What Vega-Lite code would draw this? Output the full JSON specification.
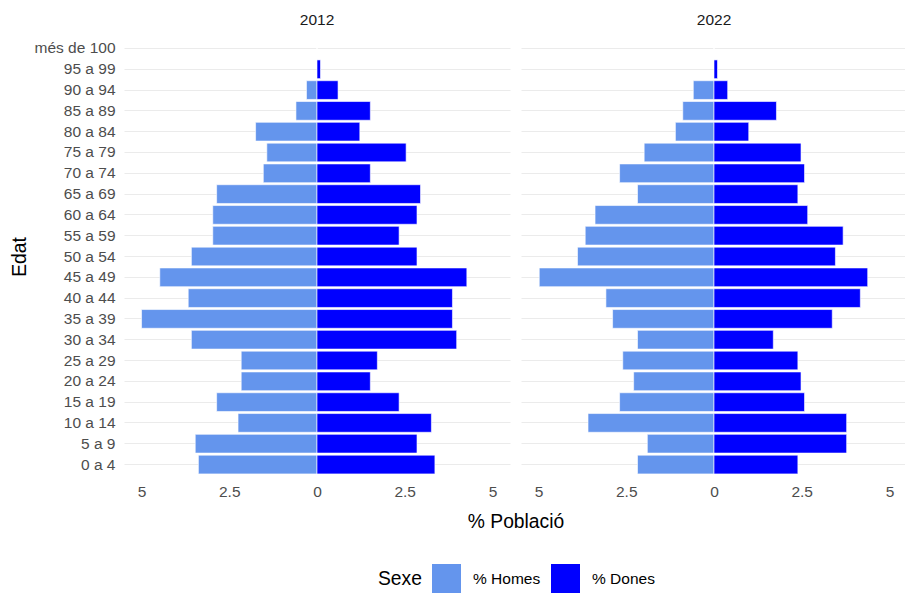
{
  "$schema": "https://vega.github.io/schema/vega-lite/v6.json",
  "background": "white",
  "padding": {"left": 10, "top": 12, "right": 0, "bottom": 0},
  "config": {
    "font": "Liberation Sans",
    "view": {"stroke": null},
    "facet": {"spacing": 11}
  },
  "data": {
    "values": [
      {"year": "2012", "edat": "més de 100", "sexe": "% Homes", "pct": 0},
      {"year": "2012", "edat": "95 a 99", "sexe": "% Homes", "pct": 0},
      {"year": "2012", "edat": "90 a 94", "sexe": "% Homes", "pct": -0.3},
      {"year": "2012", "edat": "85 a 89", "sexe": "% Homes", "pct": -0.6},
      {"year": "2012", "edat": "80 a 84", "sexe": "% Homes", "pct": -1.75},
      {"year": "2012", "edat": "75 a 79", "sexe": "% Homes", "pct": -1.43},
      {"year": "2012", "edat": "70 a 74", "sexe": "% Homes", "pct": -1.53},
      {"year": "2012", "edat": "65 a 69", "sexe": "% Homes", "pct": -2.86},
      {"year": "2012", "edat": "60 a 64", "sexe": "% Homes", "pct": -2.97},
      {"year": "2012", "edat": "55 a 59", "sexe": "% Homes", "pct": -2.97},
      {"year": "2012", "edat": "50 a 54", "sexe": "% Homes", "pct": -3.58},
      {"year": "2012", "edat": "45 a 49", "sexe": "% Homes", "pct": -4.48},
      {"year": "2012", "edat": "40 a 44", "sexe": "% Homes", "pct": -3.67},
      {"year": "2012", "edat": "35 a 39", "sexe": "% Homes", "pct": -5.0},
      {"year": "2012", "edat": "30 a 34", "sexe": "% Homes", "pct": -3.58},
      {"year": "2012", "edat": "25 a 29", "sexe": "% Homes", "pct": -2.16},
      {"year": "2012", "edat": "20 a 24", "sexe": "% Homes", "pct": -2.16},
      {"year": "2012", "edat": "15 a 19", "sexe": "% Homes", "pct": -2.86},
      {"year": "2012", "edat": "10 a 14", "sexe": "% Homes", "pct": -2.25},
      {"year": "2012", "edat": "5 a 9", "sexe": "% Homes", "pct": -3.47},
      {"year": "2012", "edat": "0 a 4", "sexe": "% Homes", "pct": -3.38},
      {"year": "2012", "edat": "més de 100", "sexe": "% Dones", "pct": 0},
      {"year": "2012", "edat": "95 a 99", "sexe": "% Dones", "pct": 0.1},
      {"year": "2012", "edat": "90 a 94", "sexe": "% Dones", "pct": 0.6},
      {"year": "2012", "edat": "85 a 89", "sexe": "% Dones", "pct": 1.52},
      {"year": "2012", "edat": "80 a 84", "sexe": "% Dones", "pct": 1.22},
      {"year": "2012", "edat": "75 a 79", "sexe": "% Dones", "pct": 2.54},
      {"year": "2012", "edat": "70 a 74", "sexe": "% Dones", "pct": 1.52},
      {"year": "2012", "edat": "65 a 69", "sexe": "% Dones", "pct": 2.95},
      {"year": "2012", "edat": "60 a 64", "sexe": "% Dones", "pct": 2.85},
      {"year": "2012", "edat": "55 a 59", "sexe": "% Dones", "pct": 2.34},
      {"year": "2012", "edat": "50 a 54", "sexe": "% Dones", "pct": 2.85},
      {"year": "2012", "edat": "45 a 49", "sexe": "% Dones", "pct": 4.27},
      {"year": "2012", "edat": "40 a 44", "sexe": "% Dones", "pct": 3.86},
      {"year": "2012", "edat": "35 a 39", "sexe": "% Dones", "pct": 3.86},
      {"year": "2012", "edat": "30 a 34", "sexe": "% Dones", "pct": 3.98},
      {"year": "2012", "edat": "25 a 29", "sexe": "% Dones", "pct": 1.72},
      {"year": "2012", "edat": "20 a 24", "sexe": "% Dones", "pct": 1.52},
      {"year": "2012", "edat": "15 a 19", "sexe": "% Dones", "pct": 2.34},
      {"year": "2012", "edat": "10 a 14", "sexe": "% Dones", "pct": 3.26},
      {"year": "2012", "edat": "5 a 9", "sexe": "% Dones", "pct": 2.85},
      {"year": "2012", "edat": "0 a 4", "sexe": "% Dones", "pct": 3.36},
      {"year": "2022", "edat": "més de 100", "sexe": "% Homes", "pct": 0},
      {"year": "2022", "edat": "95 a 99", "sexe": "% Homes", "pct": 0},
      {"year": "2022", "edat": "90 a 94", "sexe": "% Homes", "pct": -0.59},
      {"year": "2022", "edat": "85 a 89", "sexe": "% Homes", "pct": -0.89},
      {"year": "2022", "edat": "80 a 84", "sexe": "% Homes", "pct": -1.1},
      {"year": "2022", "edat": "75 a 79", "sexe": "% Homes", "pct": -1.99},
      {"year": "2022", "edat": "70 a 74", "sexe": "% Homes", "pct": -2.69},
      {"year": "2022", "edat": "65 a 69", "sexe": "% Homes", "pct": -2.18},
      {"year": "2022", "edat": "60 a 64", "sexe": "% Homes", "pct": -3.39},
      {"year": "2022", "edat": "55 a 59", "sexe": "% Homes", "pct": -3.67},
      {"year": "2022", "edat": "50 a 54", "sexe": "% Homes", "pct": -3.89},
      {"year": "2022", "edat": "45 a 49", "sexe": "% Homes", "pct": -4.98},
      {"year": "2022", "edat": "40 a 44", "sexe": "% Homes", "pct": -3.08},
      {"year": "2022", "edat": "35 a 39", "sexe": "% Homes", "pct": -2.89},
      {"year": "2022", "edat": "30 a 34", "sexe": "% Homes", "pct": -2.18},
      {"year": "2022", "edat": "25 a 29", "sexe": "% Homes", "pct": -2.6},
      {"year": "2022", "edat": "20 a 24", "sexe": "% Homes", "pct": -2.29},
      {"year": "2022", "edat": "15 a 19", "sexe": "% Homes", "pct": -2.69},
      {"year": "2022", "edat": "10 a 14", "sexe": "% Homes", "pct": -3.59},
      {"year": "2022", "edat": "5 a 9", "sexe": "% Homes", "pct": -1.9},
      {"year": "2022", "edat": "0 a 4", "sexe": "% Homes", "pct": -2.18},
      {"year": "2022", "edat": "més de 100", "sexe": "% Dones", "pct": 0},
      {"year": "2022", "edat": "95 a 99", "sexe": "% Dones", "pct": 0.1},
      {"year": "2022", "edat": "90 a 94", "sexe": "% Dones", "pct": 0.39},
      {"year": "2022", "edat": "85 a 89", "sexe": "% Dones", "pct": 1.78},
      {"year": "2022", "edat": "80 a 84", "sexe": "% Dones", "pct": 0.99},
      {"year": "2022", "edat": "75 a 79", "sexe": "% Dones", "pct": 2.48},
      {"year": "2022", "edat": "70 a 74", "sexe": "% Dones", "pct": 2.58},
      {"year": "2022", "edat": "65 a 69", "sexe": "% Dones", "pct": 2.39},
      {"year": "2022", "edat": "60 a 64", "sexe": "% Dones", "pct": 2.67},
      {"year": "2022", "edat": "55 a 59", "sexe": "% Dones", "pct": 3.68},
      {"year": "2022", "edat": "50 a 54", "sexe": "% Dones", "pct": 3.46},
      {"year": "2022", "edat": "45 a 49", "sexe": "% Dones", "pct": 4.38},
      {"year": "2022", "edat": "40 a 44", "sexe": "% Dones", "pct": 4.17},
      {"year": "2022", "edat": "35 a 39", "sexe": "% Dones", "pct": 3.37},
      {"year": "2022", "edat": "30 a 34", "sexe": "% Dones", "pct": 1.69},
      {"year": "2022", "edat": "25 a 29", "sexe": "% Dones", "pct": 2.39},
      {"year": "2022", "edat": "20 a 24", "sexe": "% Dones", "pct": 2.48},
      {"year": "2022", "edat": "15 a 19", "sexe": "% Dones", "pct": 2.58},
      {"year": "2022", "edat": "10 a 14", "sexe": "% Dones", "pct": 3.78},
      {"year": "2022", "edat": "5 a 9", "sexe": "% Dones", "pct": 3.78},
      {"year": "2022", "edat": "0 a 4", "sexe": "% Dones", "pct": 2.39}
    ]
  },
  "facet": {
    "column": {
      "field": "year",
      "type": "nominal",
      "title": "% Població",
      "header": {
        "labelFontSize": 15.5,
        "labelColor": "#1A1A1A",
        "labelPadding": 8,
        "labelOrient": "top",
        "titleOrient": "bottom",
        "titleFontSize": 19.3,
        "titleFontWeight": "normal",
        "titleColor": "black",
        "titlePadding": 3
      }
    }
  },
  "spec": {
    "width": 386,
    "height": 441,
    "mark": {"type": "bar", "stroke": "white", "strokeWidth": 0.6},
    "encoding": {
      "y": {
        "field": "edat",
        "type": "nominal",
        "sort": ["més de 100", "95 a 99", "90 a 94", "85 a 89", "80 a 84", "75 a 79", "70 a 74", "65 a 69", "60 a 64", "55 a 59", "50 a 54", "45 a 49", "40 a 44", "35 a 39", "30 a 34", "25 a 29", "20 a 24", "15 a 19", "10 a 14", "5 a 9", "0 a 4"],
        "scale": {"paddingInner": 0.1, "paddingOuter": 0.15},
        "title": "Edat",
        "axis": {
          "grid": true,
          "gridColor": "#EBEBEB",
          "gridWidth": 1,
          "domain": false,
          "ticks": false,
          "labelPadding": 9,
          "labelFontSize": 15.5,
          "labelColor": "#4D4D4D",
          "titleFontSize": 19.3,
          "titleFontWeight": "normal",
          "titleColor": "black",
          "titlePadding": 5
        }
      },
      "x": {
        "field": "pct",
        "type": "quantitative",
        "scale": {"domain": [-5.5, 5.5], "nice": false},
        "title": null,
        "axis": {
          "values": [-5, -2.5, 0, 2.5, 5],
          "labelExpr": "format(abs(datum.value), '~g')",
          "grid": false,
          "domain": false,
          "ticks": false,
          "labelPadding": 7,
          "labelFontSize": 15.5,
          "labelColor": "#4D4D4D"
        }
      },
      "color": {
        "field": "sexe",
        "type": "nominal",
        "sort": ["% Homes", "% Dones"],
        "scale": {"domain": ["% Homes", "% Dones"], "range": ["#6495ED", "#0000FF"]},
        "title": "Sexe",
        "legend": {
          "orient": "none",
          "legendX": 254,
          "legendY": 528,
          "direction": "horizontal",
          "titleOrient": "left",
          "titleFontSize": 19.3,
          "titleFontWeight": "normal",
          "titleColor": "black",
          "titlePadding": 10,
          "labelFontSize": 15.5,
          "labelColor": "black",
          "labelOffset": 12,
          "symbolType": "square",
          "symbolSize": 841,
          "symbolStrokeWidth": 0,
          "columnPadding": 10
        }
      }
    }
  }
}
